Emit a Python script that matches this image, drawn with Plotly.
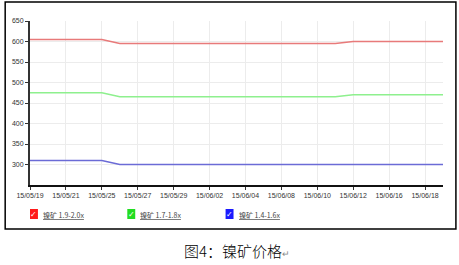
import plotly.graph_objects as go

dates = ["15/05/19","15/05/20","15/05/21","15/05/22","15/05/25","15/05/26","15/05/27","15/05/28",
         "15/05/29","15/06/01","15/06/02","15/06/03","15/06/04","15/06/05","15/06/08","15/06/09",
         "15/06/10","15/06/11","15/06/12","15/06/15","15/06/16","15/06/17","15/06/18","15/06/19"]
tick_labels = ["15/05/19","15/05/21","15/05/25","15/05/27","15/05/29","15/06/02",
               "15/06/04","15/06/08","15/06/10","15/06/12","15/06/16","15/06/18"]
s_high = [605]*5 + [595]*13 + [600]*6
s_mid = [475]*5 + [465]*13 + [470]*6
s_low = [310]*5 + [300]*19
names = ["镍矿 1.9-2.0x", "镍矿 1.7-1.8x", "镍矿 1.4-1.6x"]
line_colors = ["#e87a7a", "#8ef08e", "#6b6bd6"]
box_colors = ["#ff1a1a", "#22dd22", "#1a1aff"]
y_ticks = [300, 350, 400, 450, 500, 550, 600, 650]

L, R, T, B = 27, 16, 21, 80
W, H = 459, 265
pw, ph = W - L - R, H - T - B
def px(x): return (x - L) / pw
def py(y): return (H - B - y) / ph

fig = go.Figure()
for vals, nm, c in zip([s_high, s_mid, s_low], names, line_colors):
    fig.add_trace(go.Scatter(x=dates, y=vals, name=nm, mode="lines",
                             line=dict(color=c, width=1.5), showlegend=False))

fig.update_layout(
    width=W, height=H, margin=dict(l=L, r=R, t=T, b=B),
    paper_bgcolor="white", plot_bgcolor="white",
    font=dict(family="Liberation Sans, DejaVu Sans", color="#333", size=7),
    xaxis=dict(type="category", categoryorder="array", categoryarray=dates,
               range=[0, len(dates) - 1], tickvals=tick_labels, ticktext=tick_labels,
               showgrid=True, gridcolor="#ececec", gridwidth=1,
               showline=True, linecolor="#111", linewidth=2,
               ticks="outside", ticklen=3, tickcolor="#333", tickfont=dict(size=7, color="#333"),
               zeroline=False),
    yaxis=dict(range=[250, 650], tickvals=y_ticks, showgrid=True, gridcolor="#ececec",
               showline=True, linecolor="#333", linewidth=2,
               ticks="outside", ticklen=3, tickcolor="#333", tickfont=dict(size=7, color="#333"),
               zeroline=False),
)

shapes = [dict(type="rect", xref="paper", yref="paper", x0=px(2), x1=px(456), y0=py(229), y1=py(2),
               line=dict(color="black", width=1.5), fillcolor="rgba(0,0,0,0)", layer="below")]
annotations = []
leg_x = [27, 125, 224]
for x0, nm, bc in zip(leg_x, names, box_colors):
    shapes.append(dict(type="rect", xref="paper", yref="paper", x0=px(x0), x1=px(x0 + 8),
                       y0=py(219), y1=py(209), line=dict(width=0), fillcolor=bc))
    annotations.append(dict(xref="paper", yref="paper", x=px(x0 + 4), y=py(214), text="✓",
                            showarrow=False, font=dict(color="white", size=8, family="DejaVu Sans"),
                            xanchor="center", yanchor="middle"))
    annotations.append(dict(xref="paper", yref="paper", x=px(x0 + 11), y=py(215),
                            text="<u>" + nm + "</u>", showarrow=False,
                            font=dict(color="#444", size=7, family="Noto Sans CJK SC"),
                            xanchor="left", yanchor="middle"))
annotations.append(dict(xref="paper", yref="paper", x=px(235), y=py(250),
                        text="图4：镍矿价格<span style='font-size:9px;color:#888'>↵</span>",
                        showarrow=False, font=dict(color="black", size=15, family="Noto Sans CJK SC", weight=300),
                        xanchor="center", yanchor="middle"))
fig.update_layout(shapes=shapes, annotations=annotations)
fig.write_html("out.html")
